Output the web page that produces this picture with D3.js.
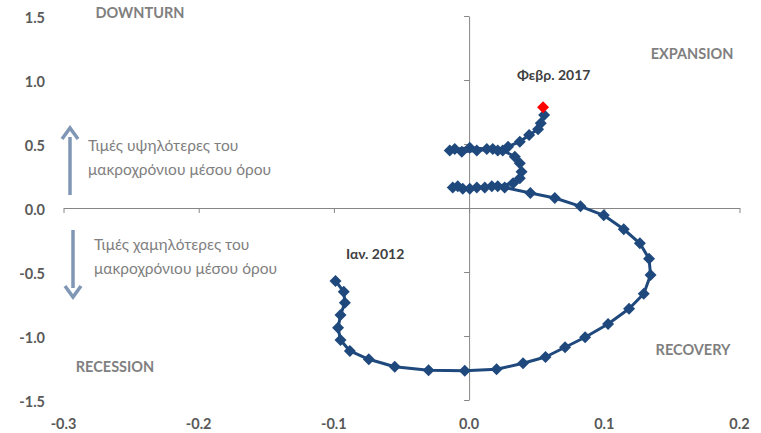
<!DOCTYPE html>
<html><head><meta charset="utf-8">
<script src="https://cdn.jsdelivr.net/npm/d3@7"></script>
<style>
html,body{margin:0;padding:0;background:#fff;}
svg{display:block;font-family:Lato,"Open Sans",sans-serif;}
</style></head>
<body><svg id="chart" width="761" height="433"></svg>
<script>
// x: change (horizontal), y: level relative to long-run mean
const xVals = [-0.0988,-0.0927,-0.0919,-0.0951,-0.0969,-0.0951,-0.0882,-0.0742,-0.0550,-0.0300,-0.0032,
  0.0203,0.0399,0.0565,0.0710,0.0858,0.1028,0.1183,0.1292,0.1342,0.1331,0.1263,0.1144,0.0996,0.0824,0.0634,0.0453,
  0.0263,0.0168,0.0057,-0.0047,-0.0121,-0.0084,0.0005,0.0116,0.0212,
  0.0325,0.0375,0.0388,0.0375,0.0338,
  0.0249,0.0175,0.0057,-0.0054,-0.0143,-0.0106,0.0005,0.0131,0.0212,
  0.0288,0.0375,0.0444,0.0510,0.0530,0.0555,0.0547];
const yVals = [-0.570,-0.654,-0.740,-0.836,-0.935,-1.031,-1.117,-1.182,-1.240,-1.268,-1.271,
  -1.260,-1.213,-1.164,-1.088,-1.010,-0.906,-0.787,-0.670,-0.523,-0.396,-0.276,-0.166,-0.057,0.013,0.078,0.117,
  0.160,0.170,0.160,0.150,0.160,0.170,0.150,0.160,0.170,
  0.193,0.232,0.284,0.349,0.401,
  0.450,0.460,0.450,0.440,0.450,0.460,0.470,0.460,0.450,
  0.479,0.518,0.570,0.615,0.662,0.727,0.787];
const xTicks = [-0.3,-0.2,-0.1,0.0,0.1,0.2];
const yTicks = [-1.5,-1.0,-0.5,0.0,0.5,1.0,1.5];
const quadrantLabels = ["DOWNTURN","EXPANSION","RECOVERY","RECESSION"];
const dateLabels = ["Ιαν. 2012","Φεβρ. 2017"];
const aboveText = ["Τιμές υψηλότερες του","μακροχρόνιου μέσου όρου"];
const belowText = ["Τιμές χαμηλότερες του","μακροχρόνιου μέσου όρου"];

const svg = d3.select("#chart");
const x = d3.scaleLinear().domain([-0.3,0.2]).range([63.5,739.5]);
const y = d3.scaleLinear().domain([-1.5,1.5]).range([400,16]);
const axisCol = "#868686", labCol = "#595959", quadCol = "#7f7f7f";

// horizontal axis at y=0
svg.append("g").attr("transform",`translate(0,${y(0)})`)
  .call(d3.axisBottom(x).tickValues(xTicks).tickSize(5).tickSizeOuter(0).tickFormat(""))
  .call(g=>{g.selectAll("line,path").attr("stroke",axisCol);});
// vertical axis at x=0
svg.append("g").attr("transform",`translate(${x(0)},0)`)
  .call(d3.axisLeft(y).tickValues(yTicks).tickSize(5).tickSizeOuter(0).tickFormat(""))
  .call(g=>{g.selectAll("line,path").attr("stroke",axisCol);});

// tick labels
svg.append("g").selectAll("text").data(yTicks).join("text")
  .attr("x",45).attr("y",d=>y(d)+7).attr("text-anchor","end")
  .attr("font-size",14.5).attr("font-weight","bold").attr("fill",labCol)
  .text(d=>d3.format(".1f")(d).replace("−","-"));
svg.append("g").selectAll("text").data(xTicks).join("text")
  .attr("x",d=>x(d)).attr("y",429).attr("text-anchor","middle")
  .attr("font-size",14.5).attr("font-weight","bold").attr("fill",labCol)
  .text(d=>d3.format(".1f")(d).replace("−","-"));

// quadrant labels
const qPos = [[140,18],[692,59],[693,355],[115,372]];
svg.append("g").selectAll("text").data(quadrantLabels).join("text")
  .attr("x",(d,i)=>qPos[i][0]).attr("y",(d,i)=>qPos[i][1]).attr("text-anchor","middle")
  .attr("font-size",14.5).attr("font-weight","bold").attr("fill",quadCol).text(d=>d);

// arrows
const arrCol = "#8096b5";
function arrow(xc, y1, y2){
  const dir = y2<y1?-1:1;
  svg.append("line").attr("x1",xc).attr("x2",xc).attr("y1",y1).attr("y2",y2-dir*9)
    .attr("stroke",arrCol).attr("stroke-width",3.5);
  svg.append("path").attr("d",`M${xc-8},${y2-dir*11} L${xc},${y2} L${xc+8},${y2-dir*11}`)
    .attr("fill","none").attr("stroke",arrCol).attr("stroke-width",3.5).attr("stroke-linejoin","miter");
}
arrow(70,195,128);
arrow(73,230,297);

// descriptive texts
svg.append("g").selectAll("text").data(aboveText).join("text")
  .attr("x",88).attr("y",(d,i)=>151+i*24).attr("font-size",15.5).attr("fill",quadCol).text(d=>d);
svg.append("g").selectAll("text").data(belowText).join("text")
  .attr("x",94).attr("y",(d,i)=>250+i*24).attr("font-size",15.5).attr("fill",quadCol).text(d=>d);

// date labels
svg.append("text").attr("x",346).attr("y",259).attr("font-size",14).attr("font-weight","bold")
  .attr("fill","#404040").text(dateLabels[0]);
svg.append("text").attr("x",517).attr("y",80).attr("font-size",14).attr("font-weight","bold")
  .attr("fill","#404040").text(dateLabels[1]);

// line
const pts = xVals.map((v,i)=>[v,yVals[i]]);
const lineCol = "#1f497d";
svg.append("path").datum(pts)
  .attr("d",d3.line().x(d=>x(d[0])).y(d=>y(d[1])))
  .attr("fill","none").attr("stroke",lineCol).attr("stroke-width",3).attr("stroke-linejoin","round");
const sym = d3.symbol().type(d3.symbolSquare).size(72);
svg.append("g").selectAll("path").data(pts).join("path")
  .attr("transform",d=>`translate(${x(d[0])},${y(d[1])}) rotate(45)`)
  .attr("d",sym).attr("fill",(d,i)=>i===pts.length-1?"#ff0000":lineCol);
</script></body></html>
